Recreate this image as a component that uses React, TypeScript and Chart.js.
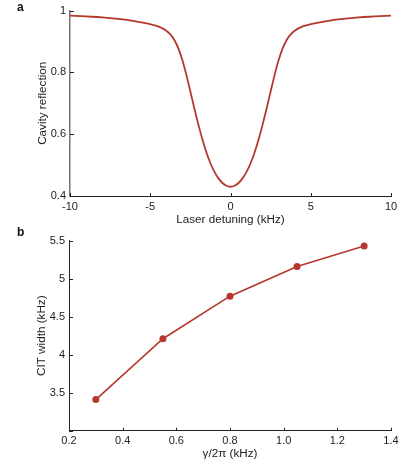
import { useEffect, useRef } from "react";
import { Chart, registerables } from "chart.js";

Chart.register(...registerables);

// panel a: cavity reflection vs laser detuning
const detuning = [
  -10, -9, -8, -7, -6, -5, -4.5, -4, -3.75, -3.5, -3.25, -3, -2.75, -2.5, -2.25, -2, -1.75,
  -1.5, -1.25, -1, -0.75, -0.5, -0.25, 0, 0.25, 0.5, 0.75, 1, 1.25, 1.5, 1.75, 2, 2.25, 2.5,
  2.75, 3, 3.25, 3.5, 3.75, 4, 4.5, 5, 6, 7, 8, 9, 10,
];
const reflection = [
  0.984, 0.981, 0.978, 0.973, 0.966, 0.956, 0.949, 0.935, 0.923, 0.905, 0.878, 0.84, 0.792,
  0.738, 0.683, 0.631, 0.583, 0.541, 0.506, 0.478, 0.457, 0.442, 0.433, 0.43, 0.433, 0.442,
  0.457, 0.478, 0.506, 0.541, 0.583, 0.631, 0.683, 0.738, 0.792, 0.84, 0.878, 0.905, 0.923,
  0.935, 0.949, 0.956, 0.966, 0.973, 0.978, 0.981, 0.984,
];

// panel b: CIT width vs gamma/2pi
const gammaKHz = [0.3, 0.55, 0.8, 1.05, 1.3];
const citWidth = [3.41, 4.21, 4.77, 5.16, 5.43];

const RED = "#b5382e";
const FONT = "'Liberation Sans', Arial, sans-serif";

// matlab-style ticks pointing into the plot
const inwardTicks = {
  id: "inwardTicks",
  afterDraw(chart: any) {
    const ctx = chart.ctx;
    const { left, bottom } = chart.chartArea;
    ctx.save();
    ctx.strokeStyle = "#222";
    ctx.lineWidth = 1;
    const xs = chart.scales.x;
    xs.ticks.forEach((_: any, i: number) => {
      const px = Math.round(xs.getPixelForTick(i)) + 0.5;
      ctx.beginPath();
      ctx.moveTo(px, bottom);
      ctx.lineTo(px, bottom - 3);
      ctx.stroke();
    });
    const ys = chart.scales.y;
    ys.ticks.forEach((_: any, i: number) => {
      const py = Math.round(ys.getPixelForTick(i)) + 0.5;
      ctx.beginPath();
      ctx.moveTo(left, py);
      ctx.lineTo(left + 4, py);
      ctx.stroke();
    });
    ctx.restore();
  },
};

function makeOptions(o: any) {
  return {
    responsive: false,
    animation: false,
    layout: { padding: o.padding },
    plugins: { legend: { display: false }, tooltip: { enabled: false } },
    scales: {
      x: {
        type: "linear",
        min: o.xMin,
        max: o.xMax,
        afterFit: (s: any) => {
          s.height = o.xHeight;
        },
        grid: { display: false, drawTicks: false },
        border: { display: true, color: "#222", width: 1 },
        ticks: {
          stepSize: o.xStep,
          color: "#222",
          padding: 4,
          maxRotation: 0,
          font: { family: FONT, size: 11 },
        },
        title: {
          display: true,
          text: o.xTitle,
          color: "#222",
          padding: { top: 0, bottom: o.xTitlePad },
          font: { family: FONT, size: 11.7 },
        },
      },
      y: {
        type: "linear",
        min: o.yMin,
        max: o.yMax,
        afterFit: (s: any) => {
          s.width = o.yWidth;
        },
        grid: { display: false, drawTicks: false },
        border: { display: true, color: o.yAxisColor, width: o.yAxisWidth },
        ticks: {
          stepSize: o.yStep,
          color: "#222",
          padding: 4,
          font: { family: FONT, size: 11 },
          callback: o.yCallback,
        },
        title: {
          display: true,
          text: o.yTitle,
          color: "#222",
          padding: { top: o.yTitlePad, bottom: 0 },
          font: { family: FONT, size: 11.7 },
        },
      },
    },
  };
}

function ReflectionChart() {
  const chartRef = useRef<HTMLCanvasElement>(null);
  useEffect(() => {
    const ctx = chartRef.current!.getContext("2d")!;
    const myChart = new Chart(ctx, {
      type: "line",
      data: {
        datasets: [
          {
            data: detuning.map((x, i) => ({ x, y: reflection[i] })),
            borderColor: RED,
            borderWidth: 1.8,
            pointRadius: 0,
            cubicInterpolationMode: "monotone",
          },
        ],
      },
      options: makeOptions({
        padding: { left: 0, right: 25, top: 7, bottom: 0 },
        xMin: -10,
        xMax: 10,
        xStep: 5,
        xHeight: 34,
        xTitle: "Laser detuning (kHz)",
        xTitlePad: 3.3,
        yMin: 0.4,
        yMax: 1,
        yStep: 0.2,
        yWidth: 70,
        yTitle: "Cavity reflection",
        yTitlePad: 36,
        yAxisColor: "#777",
        yAxisWidth: 1.5,
      }) as any,
      plugins: [inwardTicks],
    });
    return () => {
      myChart.destroy();
    };
  }, []);
  return <canvas ref={chartRef} width={416} height={230} />;
}

function WidthChart() {
  const chartRef = useRef<HTMLCanvasElement>(null);
  useEffect(() => {
    const ctx = chartRef.current!.getContext("2d")!;
    const myChart = new Chart(ctx, {
      type: "line",
      data: {
        datasets: [
          {
            data: gammaKHz.map((x, i) => ({ x, y: citWidth[i] })),
            borderColor: RED,
            backgroundColor: RED,
            borderWidth: 1.6,
            pointRadius: 3.5,
            pointBorderWidth: 0,
            tension: 0,
          },
        ],
      },
      options: makeOptions({
        padding: { left: 0, right: 25, top: 10.7, bottom: 0 },
        xMin: 0.2,
        xMax: 1.4,
        xStep: 0.2,
        xHeight: 30.3,
        xTitle: "γ/2π (kHz)",
        xTitlePad: 0,
        yMin: 3,
        yMax: 5.5,
        yStep: 0.5,
        yWidth: 69,
        yTitle: "CIT width (kHz)",
        yTitlePad: 34.5,
        yAxisColor: "#222",
        yAxisWidth: 1,
        yCallback: (v: number) => (v === 3 ? "" : String(v)),
      }) as any,
      plugins: [inwardTicks],
    });
    return () => {
      myChart.destroy();
    };
  }, []);
  return <canvas ref={chartRef} width={416} height={231} />;
}

const panelLabel = {
  position: "absolute" as const,
  left: 17,
  fontFamily: FONT,
  fontWeight: "bold" as const,
  fontSize: 12,
  color: "#111",
  lineHeight: "12px",
};

export default function App() {
  return (
    <div style={{ position: "absolute", left: 0, top: 0, width: 416, height: 461, background: "#fff" }}>
      <div style={{ position: "absolute", left: 0, top: 0 }}>
        <ReflectionChart />
      </div>
      <div style={{ position: "absolute", left: 0, top: 230 }}>
        <WidthChart />
      </div>
      <div style={{ ...panelLabel, top: 1 }}>a</div>
      <div style={{ ...panelLabel, top: 226 }}>b</div>
    </div>
  );
}
